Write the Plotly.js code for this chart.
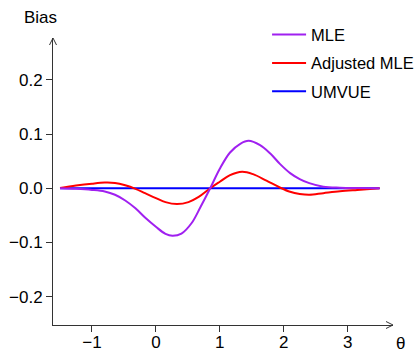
<!DOCTYPE html>
<html><head><meta charset="utf-8">
<script src="https://cdn.plot.ly/plotly-3.0.1.min.js"></script>
<style>html,body{margin:0;padding:0;background:#fff}#chart{width:416px;height:352px}</style>
</head><body><div id="chart"></div>
<script>
const thetaMle = [-1.5,-1.25,-1.0,-0.8,-0.64,-0.48,-0.32,-0.17,0,0.15,0.26,0.4,0.56,0.7,0.85,1.0,1.16,1.32,1.45,1.63,1.79,1.94,2.1,2.25,2.4,2.62,2.88,3.15,3.5];
const mle      = [0,-0.001,-0.003,-0.006,-0.012,-0.0225,-0.037,-0.054,-0.071,-0.084,-0.0875,-0.0835,-0.064,-0.034,0.0,0.036,0.066,0.082,0.0875,0.0795,0.064,0.045,0.028,0.017,0.0095,0.003,0.001,0.0003,0];
const thetaAdj = [-1.5,-1.25,-1.0,-0.8,-0.64,-0.48,-0.32,-0.17,0,0.15,0.33,0.51,0.67,0.85,1.0,1.16,1.35,1.52,1.73,1.94,2.1,2.25,2.4,2.62,2.88,3.15,3.5];
const adjMle   = [0.0005,0.005,0.0085,0.0105,0.0098,0.0055,-0.001,-0.009,-0.018,-0.0255,-0.029,-0.0255,-0.016,0,0.012,0.0243,0.0305,0.026,0.014,0.0015,-0.0065,-0.0105,-0.012,-0.009,-0.0055,-0.003,0];
const thetaUmvue = [-1.5,-1.0,-0.5,0,0.5,1.0,1.5,2.0,2.5,3.0,3.5];
const umvue      = [0,0,0,0,0,0,0,0,0,0,0];
const seriesNames = ['MLE','Adjusted MLE','UMVUE'];
const xTicks = [-1,0,1,2,3];
const yTicks = [-0.2,-0.1,0.0,0.1,0.2];

const FONT = 'Liberation Sans, Arial, sans-serif';
const W = 416, H = 352;
const M = {l:53, r:23, t:38, b:27, autoexpand:false};
const pw = W - M.l - M.r, ph = H - M.t - M.b;
const axisColor = '#333';

const traces = [
  {x: thetaUmvue, y: umvue,  name: seriesNames[2], legendgroup:'c', legendrank:3, mode:'lines', line:{color:'#0000FF', width:2}},
  {x: thetaAdj,   y: adjMle, name: seriesNames[1], legendgroup:'b', legendrank:2, mode:'lines', line:{color:'#FF0000', width:2, shape:'spline'}},
  {x: thetaMle,   y: mle,    name: seriesNames[0], legendgroup:'a', legendrank:1, mode:'lines', line:{color:'#A020F0', width:2, shape:'spline'}}
];

const layout = {
  width: W, height: H,
  margin: M,
  paper_bgcolor:'#fff', plot_bgcolor:'#fff',
  font:{family:FONT, size:17, color:'#000'},
  showlegend: true,
  legend:{traceorder:'grouped', tracegroupgap:4, itemwidth:34, xref:'container', yref:'container', x:0.642, y:0.951, xanchor:'left', yanchor:'top',
          font:{family:FONT, size:16.5, color:'#000'}, bgcolor:'rgba(0,0,0,0)'},
  xaxis:{range:[-1.61,3.71], tickvals:xTicks, ticks:'outside', ticklen:6, tickcolor:axisColor, ticklabelstandoff:-4,
         showgrid:false, zeroline:false, showline:true, linecolor:axisColor, linewidth:1},
  yaxis:{range:[-0.252,0.277], tickvals:yTicks, tickformat:'.1f', ticks:'outside', ticklen:6, tickcolor:axisColor,
         showgrid:false, zeroline:false, showline:true, linecolor:axisColor, linewidth:1},
  shapes:[
    {type:'path', xref:'paper', yref:'paper', path:`M ${-3.5/pw} ${1-7/ph} L 0 1 L ${3.5/pw} ${1-7/ph}`, line:{color:axisColor, width:1}},
    {type:'path', xref:'paper', yref:'paper', path:`M ${1-7/pw} ${3.5/ph} L 1 0 L ${1-7/pw} ${-3.5/ph}`, line:{color:axisColor, width:1}}
  ],
  annotations:[
    {text:'Bias', xref:'paper', yref:'paper', x:0, y:1, xshift:-13, yshift:21, xanchor:'center', yanchor:'middle', showarrow:false, font:{family:FONT,size:17,color:'#000'}},
    {text:'θ', xref:'paper', yref:'paper', x:1, y:0, xshift:7, yshift:-18, xanchor:'center', yanchor:'middle', showarrow:false, font:{family:FONT,size:17,color:'#000'}}
  ]
};
Plotly.newPlot('chart', traces, layout, {staticPlot:true, displayModeBar:false});
</script>
</body></html>
